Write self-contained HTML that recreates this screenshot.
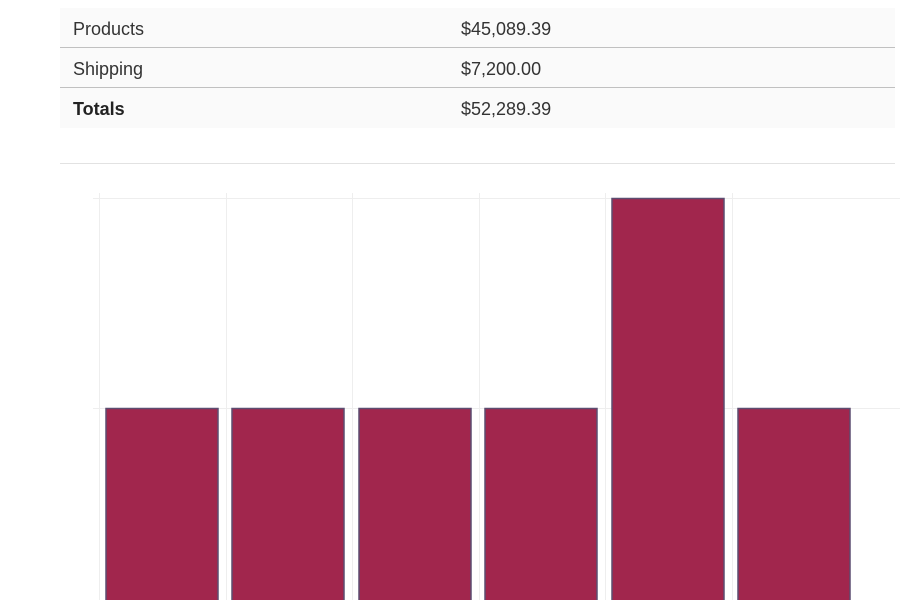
<!DOCTYPE html>
<html><head><style>
body{margin:0;width:900px;height:600px;overflow:hidden;background:#fff;font-family:"Liberation Sans",sans-serif;color:#333;}
.row{position:absolute;left:60px;width:835px;height:40px;background:#fafafa;font-size:18px;line-height:43px;}
.row span{position:absolute;}
</style></head><body>
<div class="row" style="top:8px;border-bottom:1px solid #c0c0c0;height:39px"><span style="left:13px">Products</span><span style="left:401px">$45,089.39</span></div>
<div class="row" style="top:48px;border-bottom:1px solid #c0c0c0;height:39px"><span style="left:13px">Shipping</span><span style="left:401px">$7,200.00</span></div>
<div class="row" style="top:88px"><span style="left:13px;font-weight:bold;color:#222">Totals</span><span style="left:401px">$52,289.39</span></div>
<div style="position:absolute;left:60px;top:163px;width:835px;height:1px;background:#e2e2e2"></div>
<svg width="900" height="600" style="position:absolute;left:0;top:0">
<g stroke="#eeeeee" stroke-width="1">
<line x1="93" y1="198.5" x2="900" y2="198.5"/>
<line x1="93" y1="408.5" x2="900" y2="408.5"/>
<line x1="99.5" y1="193" x2="99.5" y2="600"/>
<line x1="226.5" y1="193" x2="226.5" y2="600"/>
<line x1="352.5" y1="193" x2="352.5" y2="600"/>
<line x1="479.5" y1="193" x2="479.5" y2="600"/>
<line x1="605.5" y1="193" x2="605.5" y2="600"/>
<line x1="732.5" y1="193" x2="732.5" y2="600"/>
</g>
<g fill="#a1264d" stroke="#5c4d70" stroke-width="1.5">
<rect x="106" y="408.5" width="112" height="200"/>
<rect x="232" y="408.5" width="112" height="200"/>
<rect x="359" y="408.5" width="112" height="200"/>
<rect x="485" y="408.5" width="112" height="200"/>
<rect x="612" y="198.5" width="112" height="410"/>
<rect x="738" y="408.5" width="112" height="200"/>
</g>
</svg>
</body></html>
